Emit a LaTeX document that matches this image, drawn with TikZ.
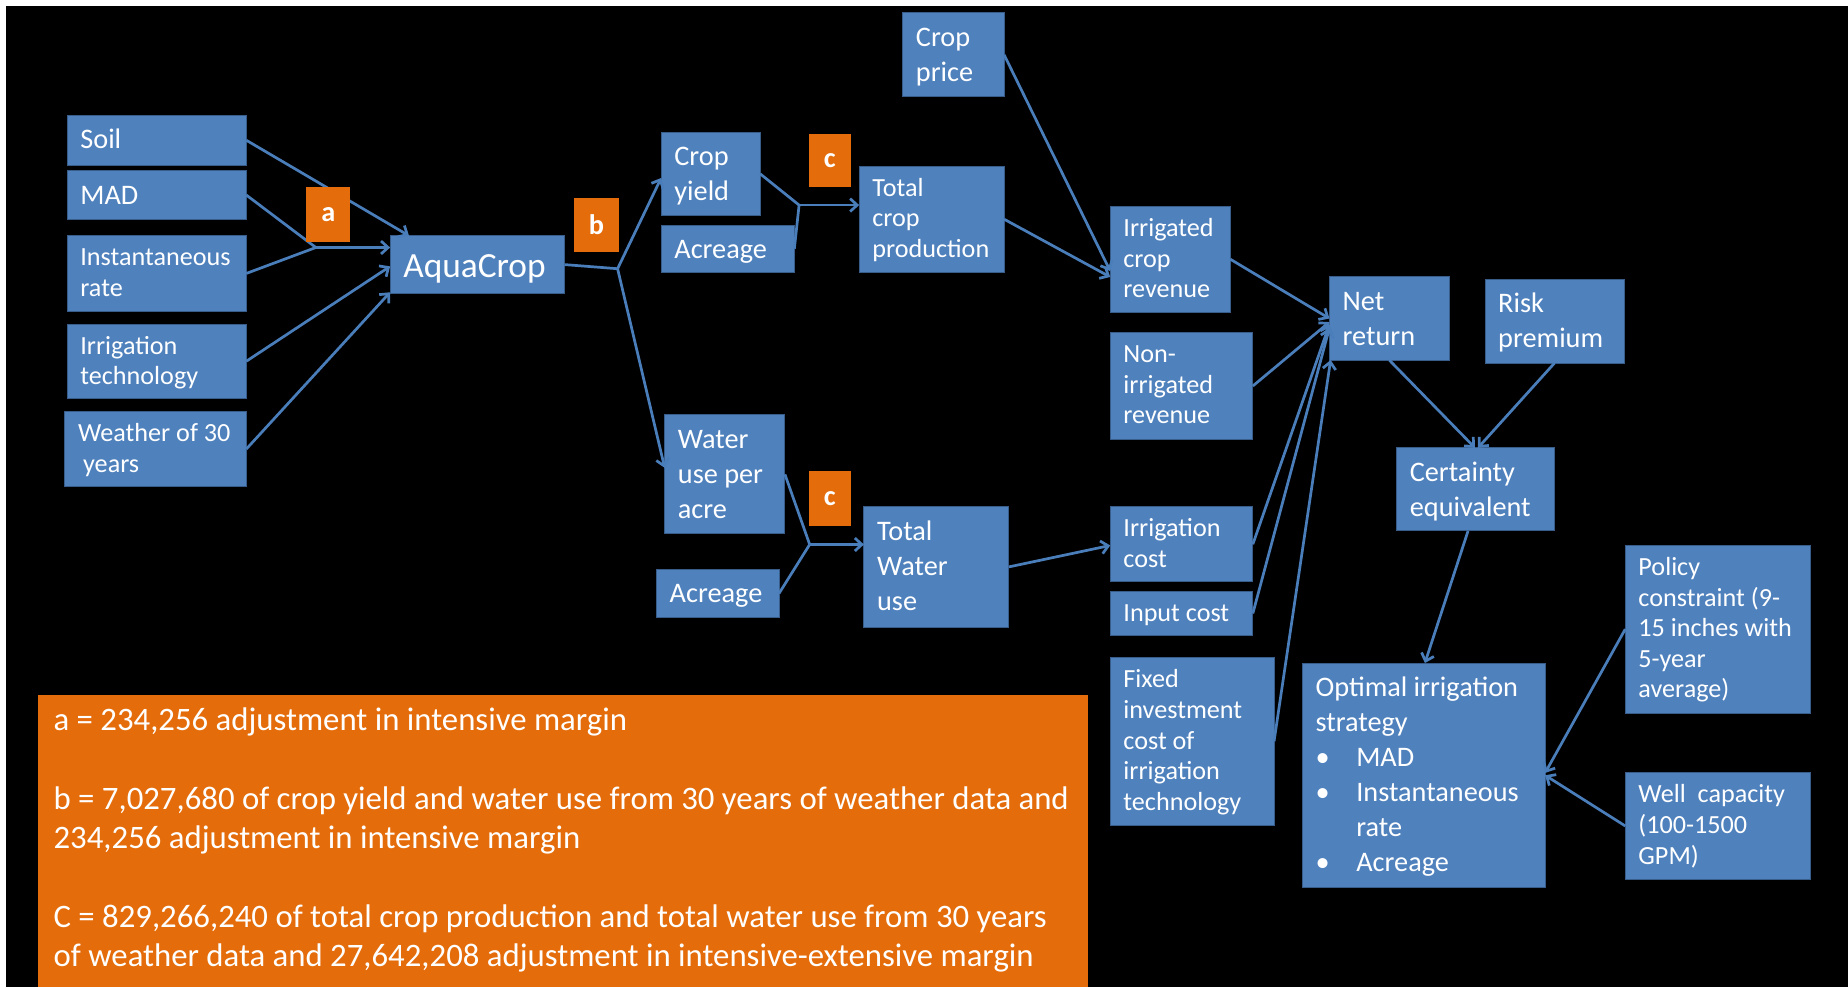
\documentclass[tikz,border=0pt]{standalone}
\usepackage{fontspec}
\setmainfont{Carlito}
\usetikzlibrary{arrows.meta,calc}
\definecolor{boxblue}{HTML}{4F81BD}
\definecolor{boxline}{HTML}{385D8A}
\definecolor{arrowblue}{HTML}{4A7EBB}
\definecolor{orng}{HTML}{E46C0A}
\tikzset{
  bx/.style={draw=boxline, line width=0.8pt, fill=boxblue, anchor=north west, inner sep=0pt, outer sep=0pt},
  lab/.style={fill=orng, draw=none, anchor=north west, inner sep=0pt, outer sep=0pt, text=white, font=\fontsize{24}{28}\selectfont\bfseries},
  sm/.style={anchor=north west, inner sep=0pt, text=white, align=left, font=\fontsize{22.2}{26}\selectfont},
  bg/.style={anchor=north west, inner sep=0pt, text=white, align=left, font=\fontsize{24}{29.7}\selectfont},
  arr/.style={draw=arrowblue, line width=2.3pt, -{Straight Barb[length=6pt,width=11pt]}},
  ln/.style={draw=arrowblue, line width=2.3pt},
}
\newcommand\mkbox[6]{\node[#6, minimum width={(#4)-(#2)}, minimum height={(#5)-(#3)}] (#1) at (#2,#3) {};}
\newcommand\mktext[3]{\node[#2] (#1-t) at ($(#1.north west)+(11,7.2)$) {#3};}
\begin{document}
\begin{tikzpicture}[x=1pt,y=-1pt]
\useasboundingbox (0,0) rectangle (1568,837.5);
\fill[white] (0,0) rectangle (1568,837.5);
\fill[black] (5,5) rectangle (1568,837.5);

% legend
\mkbox{legend}{32.3}{590}{923}{837.5}{fill=orng, anchor=north west, inner sep=0pt, outer sep=0pt}
\node[anchor=north west, inner sep=0pt, text=white, align=left, font=\fontsize{27.8}{33.3}\selectfont] (legend-t) at (45.3,596.7)
 {\strut a = 234,256 adjustment in intensive margin\\
  \strut\\
  \strut b = 7,027,680 of crop yield and water use from 30 years of weather data and\\
  \strut 234,256 adjustment in intensive margin\\
  \strut\\
  \strut C = 829,266,240 of total crop production and total water use from 30 years\\
  \strut of weather data and 27,642,208 adjustment in intensive-extensive margin};

% blue boxes
\mkbox{soil}{57}{98}{209}{140}{bx}
\mkbox{mad}{57}{145}{209}{186}{bx}
\mkbox{inst}{57}{200}{209}{264}{bx}
\mkbox{irrt}{57}{275}{209}{338}{bx}
\mkbox{weather}{55}{349}{209}{413}{bx}
\mkbox{aqua}{331}{200}{479}{249}{bx}
\mkbox{cropyield}{561}{112}{645}{183}{bx}
\mkbox{acreA}{561}{191}{674}{231}{bx}
\mkbox{totcrop}{729}{141}{852}{231}{bx}
\mkbox{cropprice}{766}{11}{852}{82}{bx}
\mkbox{irrrev}{942}{175}{1044}{265}{bx}
\mkbox{nonirr}{942}{282}{1063}{373}{bx}
\mkbox{netret}{1128}{235}{1229.5}{305.5}{bx}
\mkbox{risk}{1260}{237}{1378}{308}{bx}
\mkbox{cert}{1185}{380}{1319}{450.5}{bx}
\mkbox{wateruse}{564}{352}{666}{453}{bx}
\mkbox{acreB}{557}{483}{661}{524}{bx}
\mkbox{totwater}{733}{430}{856}{532}{bx}
\mkbox{irrcost}{942}{430}{1063}{493.6}{bx}
\mkbox{inputcost}{942}{502}{1063}{539}{bx}
\mkbox{fixed}{942}{558}{1081}{700}{bx}
\mkbox{optimal}{1105}{562.6}{1311}{753}{bx}
\mkbox{policy}{1379}{462.6}{1536}{605}{bx}
\mkbox{well}{1379}{655.6}{1536}{746}{bx}

% texts
\mktext{soil}{bg}{\strut Soil}
\mktext{mad}{bg}{\strut MAD}
\mktext{inst}{sm}{\strut Instantaneous\\\strut rate}
\mktext{irrt}{sm}{\strut Irrigation\\\strut technology}
\mktext{weather}{sm}{\strut Weather of 30\\\strut\hspace{4.4pt}years}
\node[anchor=north west, inner sep=0pt, text=white, font=\fontsize{30}{35}\selectfont] (aqua-t) at ($(aqua.north west)+(11,10.5)$) {\strut AquaCrop};
\mktext{cropyield}{bg}{\strut Crop\\\strut yield}
\mktext{acreA}{bg}{\strut Acreage}
\mktext{totcrop}{sm}{\strut Total\\\strut crop\\\strut production}
\mktext{cropprice}{bg}{\strut Crop\\\strut price}
\mktext{irrrev}{sm}{\strut Irrigated\\\strut crop\\\strut revenue}
\mktext{nonirr}{sm}{\strut Non-\\\strut irrigated\\\strut revenue}
\mktext{netret}{bg}{\strut Net\\\strut return}
\mktext{risk}{bg}{\strut Risk\\\strut premium}
\mktext{cert}{bg}{\strut Certainty\\\strut equivalent}
\mktext{wateruse}{bg}{\strut Water\\\strut use per\\\strut acre}
\mktext{acreB}{bg}{\strut Acreage}
\mktext{totwater}{bg}{\strut Total\\\strut Water\\\strut use}
\mktext{irrcost}{sm}{\strut Irrigation\\\strut cost}
\mktext{inputcost}{sm}{\strut Input cost}
\mktext{fixed}{sm}{\strut Fixed\\\strut investment\\\strut cost of\\\strut irrigation\\\strut technology}
\mktext{optimal}{bg}{\strut Optimal irrigation\\\strut strategy\\
 \strut\makebox[34.6pt][l]{•}MAD\\
 \strut\makebox[34.6pt][l]{•}Instantaneous\\
 \strut\hspace{34.6pt}rate\\
 \strut\makebox[34.6pt][l]{•}Acreage}
\mktext{policy}{sm}{\strut Policy\\\strut constraint (9-\\\strut 15 inches with\\\strut 5-year\\\strut average)}
\mktext{well}{sm}{\strut Well\ \ capacity\\\strut (100-1500\\\strut GPM)}

% junctions
\coordinate (ja) at (268,210);
\coordinate (jb) at (524,228);
\coordinate (jc1) at (678,174);
\coordinate (jc2) at (687,462);

% connectors
\draw[arr] (soil.east) -- ($(aqua.north west)+(16,0)$);
\draw[ln] (mad.east) -- (ja);
\draw[ln] (inst.east) -- (ja);
\draw[arr] (ja) -- (ja -| aqua.west);
\draw[arr] (irrt.east) -- ($(aqua.west)+(0,1.5)$);
\draw[arr] (weather.east) -- ($(aqua.south west)+(0,-1)$);
\draw[ln] (aqua.east) -- (jb);
\draw[arr] (jb) -- ($(cropyield.west)+(0,3.5)$);
\draw[arr] (jb) -- ($(wateruse.west)+(0,-5.5)$);
\draw[ln] (cropyield.east) -- (jc1);
\draw[ln] (acreA.east) -- (jc1);
\draw[arr] (jc1) -- (jc1 -| totcrop.west);
\draw[ln] (wateruse.east) -- (jc2);
\draw[ln] (acreB.east) -- (jc2);
\draw[arr] (jc2) -- (jc2 -| totwater.west);
\draw[arr] (totcrop.east) -- ($(irrrev.west)+(0,15)$);
\draw[arr] (cropprice.east) -- ($(irrrev.west)+(0,10)$);
\draw[arr] (totwater.east) -- ($(irrcost.west)+(0,1)$);
\draw[arr] (irrrev.east) -- (netret.west);
\draw[arr] (nonirr.east) -- ($(netret.west)+(0,3)$);
\draw[arr] (irrcost.east) -- ($(netret.west)+(0,5)$);
\draw[arr] (inputcost.east) -- ($(netret.west)+(0,8)$);
\draw[arr] (fixed.east) -- ($(netret.south west)+(1,0)$);
\draw[arr] (netret.south) -- ($(cert.north)+(-0.5,0)$);
\draw[arr] (risk.south) -- ($(cert.north)+(2,0)$);
\draw[arr] ($(cert.south)+(-6.4,0)$) -- ($(optimal.north)+(1,0)$);
\draw[arr] (policy.west) -- ($(optimal.east)+(0,-2)$);
\draw[arr] (well.west) -- (optimal.east);

% orange labels
\node[lab, minimum width=37, minimum height=46] (la) at (260,159) {a};
\node[lab, minimum width=38, minimum height=46] (lb) at (487,168) {b};
\node[lab, minimum width=36, minimum height=45] (lc1) at (686,114) {c};
\node[lab, minimum width=36, minimum height=46] (lc2) at (686,400) {c};
\end{tikzpicture}
\end{document}
